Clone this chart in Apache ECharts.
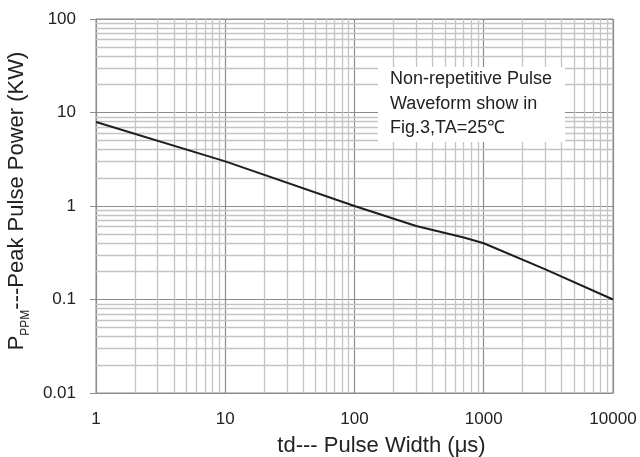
<!DOCTYPE html>
<html>
<head>
<meta charset="utf-8">
<script src="https://cdn.jsdelivr.net/npm/echarts@6/dist/echarts.min.js"></script>
<style>html,body{margin:0;padding:0;background:#fff}#c{width:640px;height:457px}</style>
</head>
<body>
<div id="c"></div>
<script>
// Data
var pulseWidth = [1, 10, 100, 300, 700, 1000, 3000, 10000];      // µs
var peakPower  = [7.9, 3.0, 1.0, 0.61, 0.46, 0.40, 0.21, 0.10]; // kW
var xTickValues = [1, 10, 100, 1000, 10000];
var yTickValues = [0.01, 0.1, 1, 10, 100];
var xDecades = [1, 10, 100, 1000];
var yDecades = [0.01, 0.1, 1, 10];
var minorMultipliers = [2, 3, 4, 5, 6, 7, 8, 9];
var noteLines = ['Non-repetitive Pulse', 'Waveform show in', 'Fig.3,TA=25\u2103'];

var FONT = 'Liberation Sans';
var minorX = [], minorY = [];
xDecades.forEach(function (d) { minorMultipliers.forEach(function (m) { minorX.push({ xAxis: +(d * m).toPrecision(6) }); }); });
yDecades.forEach(function (d) { minorMultipliers.forEach(function (m) { minorY.push({ yAxis: +(d * m).toPrecision(6) }); }); });

var chart = echarts.init(document.getElementById('c'));
chart.setOption({
  animation: false,
  backgroundColor: '#fff',
  grid: { left: 96, right: 27, top: 19, bottom: 64, containLabel: false, outerBoundsMode: 'none',
    show: true, borderColor: '#8c8c8c', borderWidth: 1, backgroundColor: 'transparent' },
  xAxis: {
    type: 'log', logBase: 10, min: 1, max: 10000,
    name: 'td--- Pulse Width (\u03bcs)', nameLocation: 'middle', nameGap: 42,
    nameTextStyle: { fontFamily: FONT, fontSize: 22, color: '#222', padding: [0, 0, 0, 54] },
    axisLine: { show: true, lineStyle: { color: '#8c8c8c', width: 1 } },
    axisTick: { show: false },
    axisLabel: { fontFamily: FONT, fontSize: 17, color: '#222', margin: 18,
      formatter: function (v) { return xTickValues.indexOf(v) >= 0 ? String(v) : ''; } },
    splitLine: { show: true, lineStyle: { color: '#8c8c8c', width: 1.2 } },
    minorTick: { show: false }, minorSplitLine: { show: false }
  },
  yAxis: {
    type: 'log', logBase: 10, min: 0.01, max: 100,
    name: '{a|P}{b|PPM}{a|---Peak Pulse Power (KW)}', nameLocation: 'middle', nameGap: 59, nameRotate: 90,
    nameTextStyle: { fontFamily: FONT, color: '#222', padding: [0, 0, 0, 10],
      rich: {
        a: { fontFamily: FONT, fontSize: 22, color: '#222', lineHeight: 26, verticalAlign: 'bottom' },
        b: { fontFamily: FONT, fontSize: 12, color: '#222', lineHeight: 26, verticalAlign: 'bottom', padding: [0, 0, -4, 0] }
      } },
    axisLine: { show: true, lineStyle: { color: '#8c8c8c', width: 1 } },
    axisTick: { show: true, inside: false, length: 6, lineStyle: { color: '#8c8c8c' } },
    axisLabel: { fontFamily: FONT, fontSize: 17, color: '#222', margin: 20,
      formatter: function (v) { return yTickValues.indexOf(v) >= 0 ? String(v) : ''; } },
    splitLine: { show: true, lineStyle: { color: '#8c8c8c', width: 1.2 } },
    minorTick: { show: false }, minorSplitLine: { show: false }
  },
  series: [
    {
      type: 'line', z: 1, silent: true,
      data: pulseWidth.map(function (x, i) { return [x, peakPower[i]]; }),
      lineStyle: { opacity: 0 }, showSymbol: false, symbol: 'none',
      markLine: {
        silent: true, symbol: 'none', label: { show: false }, animation: false,
        lineStyle: { color: '#c4c4c4', width: 1.3, type: 'solid' },
        data: minorX.concat(minorY)
      }
    },
    {
      type: 'line', z: 5,
      data: pulseWidth.map(function (x, i) { return [x, peakPower[i]]; }),
      showSymbol: false, symbol: 'none', smooth: false,
      lineStyle: { color: '#1e1e1e', width: 2 }
    }
  ],
  graphic: [
    { type: 'rect', zlevel: 1, z: 100, left: 378, top: 67, shape: { width: 187, height: 75 }, style: { fill: '#fff' } },
    { type: 'text', zlevel: 1, z: 101, left: 390, top: 67, style: { text: noteLines.join('\n'), font: '18px "' + FONT + '"', fill: '#222', lineHeight: 24.5 } }
  ]
});
</script>
</body>
</html>
